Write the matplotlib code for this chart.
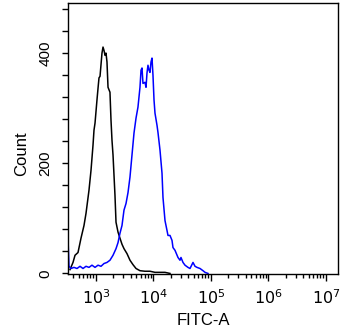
import numpy as np
import matplotlib
matplotlib.use("Agg")
import matplotlib.pyplot as plt
from matplotlib.ticker import LogLocator, MultipleLocator, FixedLocator, NullFormatter

plt.rcParams['font.family'] = ['Liberation Sans', 'DejaVu Sans']

# histogram traces: log10(FITC-A) channel position and event count
control_log = [2.548, 2.600, 2.635, 2.687, 2.739, 2.791, 2.826, 2.878, 2.913, 2.948,
               2.965, 2.983, 3.017, 3.035, 3.052, 3.070, 3.104, 3.122, 3.139, 3.157,
               3.174, 3.191, 3.209, 3.243, 3.261, 3.278, 3.296, 3.330, 3.348, 3.383,
               3.417, 3.452, 3.487, 3.539, 3.591, 3.643, 3.696, 3.765, 3.852, 3.939,
               4.026, 4.113, 4.200, 4.287]
control_count = [7, 20, 33, 38, 64, 87, 109, 151, 187, 233,
                 260, 273, 315, 336, 355, 358, 400, 411, 405, 396,
                 400, 384, 338, 329, 278, 242, 215, 142, 93, 75,
                 64, 53, 45, 36, 24, 16, 9, 5, 4, 4,
                 2, 2, 2, 0]

stained_log = [2.513, 2.513, 2.530, 2.565, 2.617, 2.670, 2.722, 2.774, 2.826, 2.878,
               2.930, 2.983, 3.035, 3.087, 3.139, 3.191, 3.243, 3.296, 3.348, 3.383,
               3.417, 3.452, 3.487, 3.522, 3.557, 3.591, 3.626, 3.661, 3.696, 3.730,
               3.765, 3.783, 3.800, 3.817, 3.852, 3.870, 3.887, 3.904, 3.922, 3.939,
               3.957, 3.974, 3.991, 4.009, 4.026, 4.061, 4.078, 4.113, 4.148, 4.165,
               4.200, 4.235, 4.252, 4.287, 4.322, 4.339, 4.374, 4.426, 4.461, 4.478,
               4.513, 4.548, 4.600, 4.635, 4.687, 4.722, 4.757, 4.809, 4.861, 4.896,
               4.948]
stained_count = [0, 64, 13, 9, 11, 9, 13, 9, 13, 11,
                 15, 11, 15, 13, 18, 20, 24, 33, 45, 56,
                 73, 87, 115, 127, 147, 175, 215, 255, 282, 302,
                 338, 369, 373, 345, 347, 338, 364, 378, 369, 365,
                 384, 391, 360, 315, 291, 269, 256, 224, 182, 138,
                 96, 78, 69, 69, 60, 47, 42, 29, 24, 29,
                 20, 15, 11, 9, 20, 13, 11, 9, 5, 2,
                 0]

fig = plt.figure(figsize=(3.5, 3.32), dpi=100)
ax = fig.add_axes([68 / 350, 58 / 332, 270 / 350, 271 / 332])

ax.plot(10 ** np.array(control_log), control_count, color='black', linewidth=1.1)
ax.plot(10 ** np.array(stained_log), stained_count, color='#0000ff', linewidth=1.1)

ax.set_xscale('log')
ax.set_xlim(10 ** 2.513, 10 ** 7.209)
ax.set_ylim(-1, 491)

ax.xaxis.set_major_locator(FixedLocator([1e3, 1e4, 1e5, 1e6, 1e7]))
ax.xaxis.set_minor_locator(LogLocator(base=10, subs=np.arange(2, 10), numticks=20))
ax.xaxis.set_minor_formatter(NullFormatter())
ax.set_xticklabels([r'$10^{3}$', r'$10^{4}$', r'$10^{5}$', r'$10^{6}$', r'$10^{7}$'])

ax.yaxis.set_major_locator(FixedLocator([0, 200, 400]))
ax.yaxis.set_minor_locator(MultipleLocator(40))
for lbl in ax.get_yticklabels():
    lbl.set_rotation(90)
    lbl.set_va('center')

ax.tick_params(axis='x', which='major', length=5, width=1, labelsize=11.5, pad=5)
ax.tick_params(axis='x', which='minor', length=3, width=1)
ax.tick_params(axis='y', which='both', length=4, width=1, labelsize=11, pad=7)

for side in ax.spines.values():
    side.set_linewidth(1.0)

ax.set_xlabel('FITC-A', fontsize=12, va='center')
ax.set_ylabel('Count', fontsize=12, va='center')
ax.xaxis.set_label_coords(0.5, -0.17)
ax.yaxis.set_label_coords(-0.17, 0.443)

fig.savefig('out.png', dpi=100)
